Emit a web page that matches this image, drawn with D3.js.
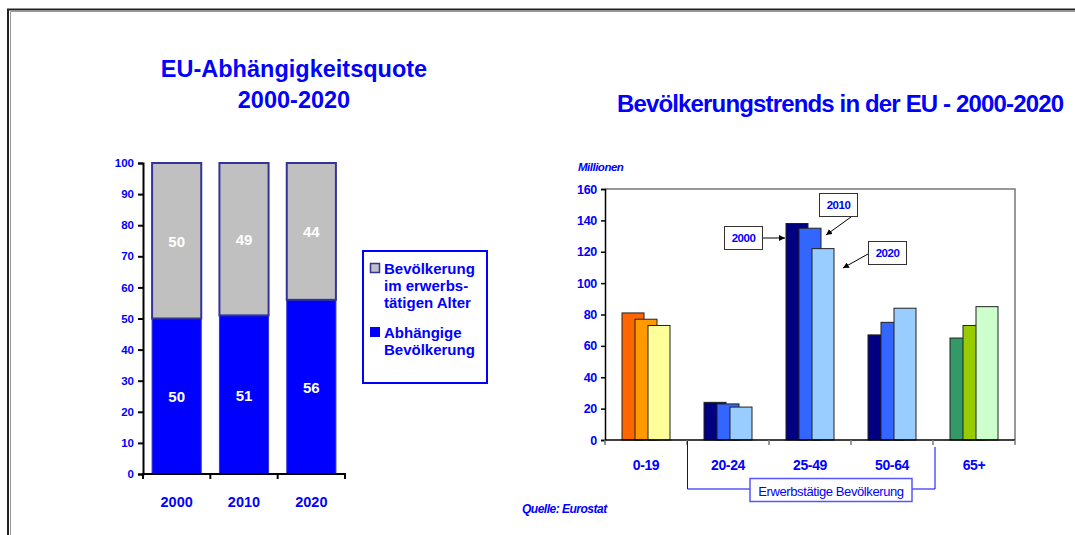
<!DOCTYPE html>
<meta charset="utf-8">
<html>
<head>
  <title>EU-Abhängigkeitsquote / Bevölkerungstrends</title>
  <style>
    body { margin: 0; background: #fff; }
    svg { display: block; font-family: Arial, "Liberation Sans", sans-serif; }
  </style>
</head>
<body>
<script src="https://d3js.org/d3.v7.min.js"></script>
<script>

// --- data: left chart (dependency ratio) ---
var years = ["2000", "2010", "2020"];
var dependent = [50, 51, 56];      // Abhängige Bevölkerung
var working = [50, 49, 44];        // Bevölkerung im erwerbstätigen Alter
var leftTicks = [0, 10, 20, 30, 40, 50, 60, 70, 80, 90, 100];

// --- data: right chart (population trends, millions) ---
var ageGroups = ["0-19", "20-24", "25-49", "50-64", "65+"];
var pop2000 = [81, 24, 138, 67, 65];
var pop2010 = [77, 23, 135, 75, 73];
var pop2020 = [73, 21, 122, 84, 85];
var rightTicks = [0, 20, 40, 60, 80, 100, 120, 140, 160];
var groupColors = [
  ["#ff6600", "#ff9900", "#ffff99"],
  ["#000080", "#3366ff", "#99ccff"],
  ["#000080", "#3366ff", "#99ccff"],
  ["#000080", "#3366ff", "#99ccff"],
  ["#339966", "#99cc00", "#ccffcc"]
];

var blue = "#0000ff";

var svg = d3.select("body").append("svg")
    .attr("width", 1075)
    .attr("height", 535);

// frame of the slide
svg.append("path")
    .attr("d", "M8,535V9.5H1075")
    .attr("fill", "none")
    .attr("stroke", "#222")
    .attr("stroke-width", 2);
svg.append("path")
    .attr("d", "M10.5,535V11.5H1075")
    .attr("fill", "none")
    .attr("stroke", "#999")
    .attr("stroke-width", 1);

/*
   Left chart
*/
svg.append("text")
    .attr("x", 294).attr("y", 77)
    .attr("text-anchor", "middle")
    .attr("fill", blue)
    .style("font-size", "23.5px").style("font-weight", "bold")
    .text("EU-Abhängigkeitsquote");
svg.append("text")
    .attr("x", 294).attr("y", 108)
    .attr("text-anchor", "middle")
    .attr("fill", blue)
    .style("font-size", "23.5px").style("font-weight", "bold")
    .text("2000-2020");

var xL = d3.scaleBand()
    .domain(years)
    .range([143, 345])
    .paddingInner(0.27)
    .paddingOuter(0.135);

var yL = d3.scaleLinear()
    .domain([0, 100])
    .range([474, 163]);

var left = svg.append("g");

// dependent (blue) part
left.selectAll("rect.dep")
    .data(years)
  .enter().append("rect")
    .attr("class", "dep")
    .attr("x", function(d) { return xL(d); })
    .attr("width", xL.bandwidth())
    .attr("y", function(d, i) { return yL(dependent[i]); })
    .attr("height", function(d, i) { return yL(0) - yL(dependent[i]); })
    .attr("fill", blue)
    .attr("stroke", "#3333cc")
    .attr("stroke-width", 1);

// working-age (gray) part
left.selectAll("rect.work")
    .data(years)
  .enter().append("rect")
    .attr("class", "work")
    .attr("x", function(d) { return xL(d); })
    .attr("width", xL.bandwidth())
    .attr("y", function(d, i) { return yL(dependent[i] + working[i]); })
    .attr("height", function(d, i) { return yL(dependent[i]) - yL(dependent[i] + working[i]); })
    .attr("fill", "#c0c0c0")
    .attr("stroke", "#333399")
    .attr("stroke-width", 2);

// value labels
left.selectAll("text.depLab")
    .data(years)
  .enter().append("text")
    .attr("x", function(d) { return xL(d) + xL.bandwidth() / 2; })
    .attr("y", function(d, i) { return yL(dependent[i] / 2) + 6; })
    .attr("text-anchor", "middle")
    .attr("fill", "#fff")
    .style("font-size", "15px").style("font-weight", "bold")
    .text(function(d, i) { return dependent[i]; });

left.selectAll("text.workLab")
    .data(years)
  .enter().append("text")
    .attr("x", function(d) { return xL(d) + xL.bandwidth() / 2; })
    .attr("y", function(d, i) { return yL(dependent[i] + working[i] / 2) + 6; })
    .attr("text-anchor", "middle")
    .attr("fill", "#fff")
    .style("font-size", "15px").style("font-weight", "bold")
    .text(function(d, i) { return working[i]; });

// y axis
var yAxisL = left.append("g")
    .attr("transform", "translate(143,0)")
    .call(d3.axisLeft(yL).tickValues(leftTicks).tickSize(5).tickPadding(4));
yAxisL.select(".domain").attr("stroke", "#000").attr("stroke-width", 2);
yAxisL.selectAll(".tick line").attr("stroke", "#000").attr("stroke-width", 2);
yAxisL.selectAll("text")
    .attr("fill", blue)
    .style("font-size", "11.5px").style("font-weight", "bold")
    .style("font-family", "Arial, 'Liberation Sans', sans-serif");

// x axis
left.append("line")
    .attr("x1", 142).attr("x2", 346)
    .attr("y1", yL(0)).attr("y2", yL(0))
    .attr("stroke", "#000").attr("stroke-width", 2);
left.selectAll("line.xtick")
    .data(d3.range(years.length + 1))
  .enter().append("line")
    .attr("class", "xtick")
    .attr("x1", function(i) { return 143 + i * xL.step(); })
    .attr("x2", function(i) { return 143 + i * xL.step(); })
    .attr("y1", yL(0)).attr("y2", yL(0) + 5)
    .attr("stroke", "#000").attr("stroke-width", 2);
left.selectAll("text.year")
    .data(years)
  .enter().append("text")
    .attr("x", function(d) { return xL(d) + xL.bandwidth() / 2; })
    .attr("y", 507)
    .attr("text-anchor", "middle")
    .attr("fill", blue)
    .style("font-size", "14.5px").style("font-weight", "bold")
    .text(function(d) { return d; });

// legend
var lg = svg.append("g");
lg.append("rect")
    .attr("x", 363).attr("y", 251)
    .attr("width", 124).attr("height", 132)
    .attr("fill", "#fff")
    .attr("stroke", blue).attr("stroke-width", 2);
lg.append("rect")
    .attr("x", 370.5).attr("y", 263.5)
    .attr("width", 9).attr("height", 9)
    .attr("fill", "#c0c0c0").attr("stroke", "#333399").attr("stroke-width", 1.5);
lg.append("rect")
    .attr("x", 370).attr("y", 327)
    .attr("width", 10).attr("height", 10)
    .attr("fill", blue);
var legendLines = [
  ["Bevölkerung", 274], ["im erwerbs-", 291], ["tätigen Alter", 308],
  ["Abhängige", 338], ["Bevölkerung", 355]
];
lg.selectAll("text")
    .data(legendLines)
  .enter().append("text")
    .attr("x", 384)
    .attr("y", function(d) { return d[1]; })
    .attr("fill", blue)
    .style("font-size", "15px").style("font-weight", "bold")
    .text(function(d) { return d[0]; });

/*
   Right chart
*/
svg.append("text")
    .attr("x", 617).attr("y", 112)
    .attr("fill", blue)
    .style("font-size", "24px").style("font-weight", "bold")
    .style("letter-spacing", "-0.85px")
    .text("Bevölkerungstrends in der EU - 2000-2020");

svg.append("text")
    .attr("x", 578).attr("y", 171)
    .attr("fill", blue)
    .style("font-size", "11.5px").style("font-weight", "bold").style("font-style", "italic")
    .style("letter-spacing", "-0.5px")
    .text("Millionen");

var xR = d3.scaleBand()
    .domain(ageGroups)
    .range([605, 1015]);

var yR = d3.scaleLinear()
    .domain([0, 160])
    .range([440, 189]);

// offset of each year's bar inside a group
var xOff = d3.scaleLinear().domain([0, 2]).range([17, 43]);
var barW = 22;

var right = svg.append("g");

// plot area border (top and right)
right.append("path")
    .attr("d", "M605," + yR(160) + "H1015V" + yR(0))
    .attr("fill", "none")
    .attr("stroke", "#777").attr("stroke-width", 1.5);

var series = [pop2000, pop2010, pop2020];
series.forEach(function(vals, s) {
  right.selectAll("rect.s" + s)
      .data(ageGroups)
    .enter().append("rect")
      .attr("class", "s" + s)
      .attr("x", function(d) { return xR(d) + xOff(s); })
      .attr("width", barW)
      .attr("y", function(d, i) { return yR(vals[i]); })
      .attr("height", function(d, i) { return yR(0) - yR(vals[i]); })
      .attr("fill", function(d, i) { return groupColors[i][s]; })
      .attr("stroke", "#222").attr("stroke-width", 1);
});

// y axis
var yAxisR = right.append("g")
    .attr("transform", "translate(605,0)")
    .call(d3.axisLeft(yR).tickValues(rightTicks).tickSize(4).tickPadding(4));
yAxisR.select(".domain").attr("stroke", "#000").attr("stroke-width", 1.5);
yAxisR.selectAll(".tick line").attr("stroke", "#000").attr("stroke-width", 1.5);
yAxisR.selectAll("text")
    .attr("fill", blue)
    .style("font-size", "12.5px").style("font-weight", "bold")
    .style("letter-spacing", "-0.3px")
    .style("font-family", "Arial, 'Liberation Sans', sans-serif");

// x axis
right.append("line")
    .attr("x1", 605).attr("x2", 1015)
    .attr("y1", yR(0)).attr("y2", yR(0))
    .attr("stroke", "#000").attr("stroke-width", 1.5);
right.selectAll("line.xtick")
    .data(d3.range(ageGroups.length + 1))
  .enter().append("line")
    .attr("class", "xtick")
    .attr("x1", function(i) { return 605 + i * xR.step(); })
    .attr("x2", function(i) { return 605 + i * xR.step(); })
    .attr("y1", yR(0)).attr("y2", yR(0) + 5)
    .attr("stroke", "#777").attr("stroke-width", 1.5);
right.selectAll("text.cat")
    .data(ageGroups)
  .enter().append("text")
    .attr("x", function(d) { return xR(d) + xR.bandwidth() / 2; })
    .attr("y", 470)
    .attr("text-anchor", "middle")
    .attr("fill", blue)
    .style("font-size", "14px").style("font-weight", "bold")
    .style("letter-spacing", "-0.4px")
    .text(function(d) { return d; });

// bracket for working-age population
var bx1 = xR("20-24"), bx2 = xR("65+");
right.append("path")
    .attr("d", "M" + (bx1 + 0.5) + "," + (yR(0) + 1) + "V489H" + (bx2 + 2) + "V447")
    .attr("fill", "none")
    .attr("stroke", blue).attr("stroke-width", 1);
right.append("rect")
    .attr("x", 750).attr("y", 478.5)
    .attr("width", 162).attr("height", 23)
    .attr("fill", "#fff")
    .attr("stroke", "#5555ff").attr("stroke-width", 1.5);
right.append("text")
    .attr("x", 831).attr("y", 495.5)
    .attr("text-anchor", "middle")
    .attr("fill", blue)
    .style("font-size", "13px")
    .style("letter-spacing", "-0.4px")
    .text("Erwerbstätige Bevölkerung");

svg.append("text")
    .attr("x", 522).attr("y", 513)
    .attr("fill", blue)
    .style("font-size", "12px").style("font-weight", "bold").style("font-style", "italic")
    .style("letter-spacing", "-0.5px")
    .text("Quelle: Eurostat");

// year call-outs pointing at the 25-49 group
svg.append("defs").append("marker")
    .attr("id", "arr")
    .attr("viewBox", "0 0 10 10")
    .attr("refX", 10).attr("refY", 5)
    .attr("markerWidth", 6).attr("markerHeight", 6)
    .attr("orient", "auto")
  .append("path")
    .attr("d", "M0,0L10,5L0,10z")
    .attr("fill", "#000");

var callouts = [
  { label: "2000", x: 724, y: 226, ax1: 762, ay1: 238, ax2: 785, ay2: 238 },
  { label: "2010", x: 819, y: 193, ax1: 851, ay1: 217, ax2: 826, ay2: 235 },
  { label: "2020", x: 868, y: 241, ax1: 868, ay1: 254, ax2: 843, ay2: 268 }
];
var co = svg.append("g");
callouts.forEach(function(c) {
  co.append("line")
      .attr("x1", c.ax1).attr("y1", c.ay1)
      .attr("x2", c.ax2).attr("y2", c.ay2)
      .attr("stroke", "#000").attr("stroke-width", 1)
      .attr("marker-end", "url(#arr)");
  co.append("rect")
      .attr("x", c.x + 0.5).attr("y", c.y + 0.5)
      .attr("width", 38).attr("height", 23)
      .attr("fill", "#fff")
      .attr("stroke", "#333").attr("stroke-width", 1);
  co.append("text")
      .attr("x", c.x + 19.5).attr("y", c.y + 16)
      .attr("text-anchor", "middle")
      .attr("fill", blue)
      .style("font-size", "11.5px").style("font-weight", "bold")
      .style("letter-spacing", "-0.5px")
      .text(c.label);
});

</script>
</body>
</html>
